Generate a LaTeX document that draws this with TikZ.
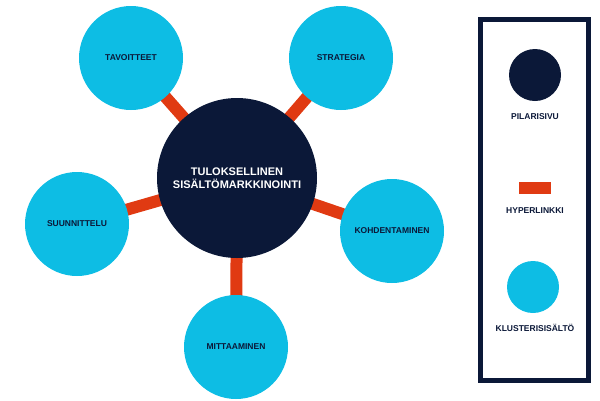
\documentclass[tikz,border=0pt]{standalone}
\usepackage{fontspec}
\setmainfont{Liberation Sans}
\usetikzlibrary{positioning}
\definecolor{navy}{HTML}{0B1838}
\definecolor{cyan}{HTML}{0DBDE4}
\definecolor{linkred}{HTML}{E03A12}
\begin{document}
\begin{tikzpicture}[x=1pt,y=-1pt,
pillar/.style={circle,fill=navy,text=white,minimum size=160pt,inner sep=0pt,align=center,font=\bfseries\fontsize{11}{13}\selectfont},
cluster/.style={circle,fill=cyan,text=navy,minimum size=104pt,inner sep=0pt,font=\bfseries\fontsize{8.5}{10}\selectfont},
link/.style={draw=linkred,line width=12pt},
legtext/.style={text=navy,font=\bfseries\fontsize{8.5}{10}\selectfont}
]
\useasboundingbox (0,0) rectangle (600,400);
\coordinate (c) at (237,178);
\coordinate (t) at (131,58);
\coordinate (s) at (341,58);
\coordinate (u) at (77,224);
\coordinate (k) at (392,231);
\coordinate (m) at (236,347);
% links behind circles
\foreach \p in {t,s,u,k,m} \draw[link] (c) -- (\p);
\node[pillar] (pil) at (c) {TULOKSELLINEN\\SISÄLTÖMARKKINOINTI};
\node[cluster] (tav) at (t) {TAVOITTEET};
\node[cluster] (str) at (s) {STRATEGIA};
\node[cluster] (suu) at (u) {SUUNNITTELU};
\node[cluster] (koh) at (k) {KOHDENTAMINEN};
\node[cluster] (mit) at (m) {MITTAAMINEN};
% legend
\draw[navy,line width=5pt] (480,19) rectangle (588,380);
\node[circle,fill=navy,minimum size=52pt] (lp) at (535,75) {};
\node[legtext] at (535,117) {PILARISIVU};
\fill[linkred] (519,182) rectangle (551,194);
\node[legtext] at (535,211) {HYPERLINKKI};
\node[circle,fill=cyan,minimum size=52pt] (lc) at (533,287) {};
\node[legtext] at (535,328) {KLUSTERISISÄLTÖ};
\end{tikzpicture}
\end{document}
